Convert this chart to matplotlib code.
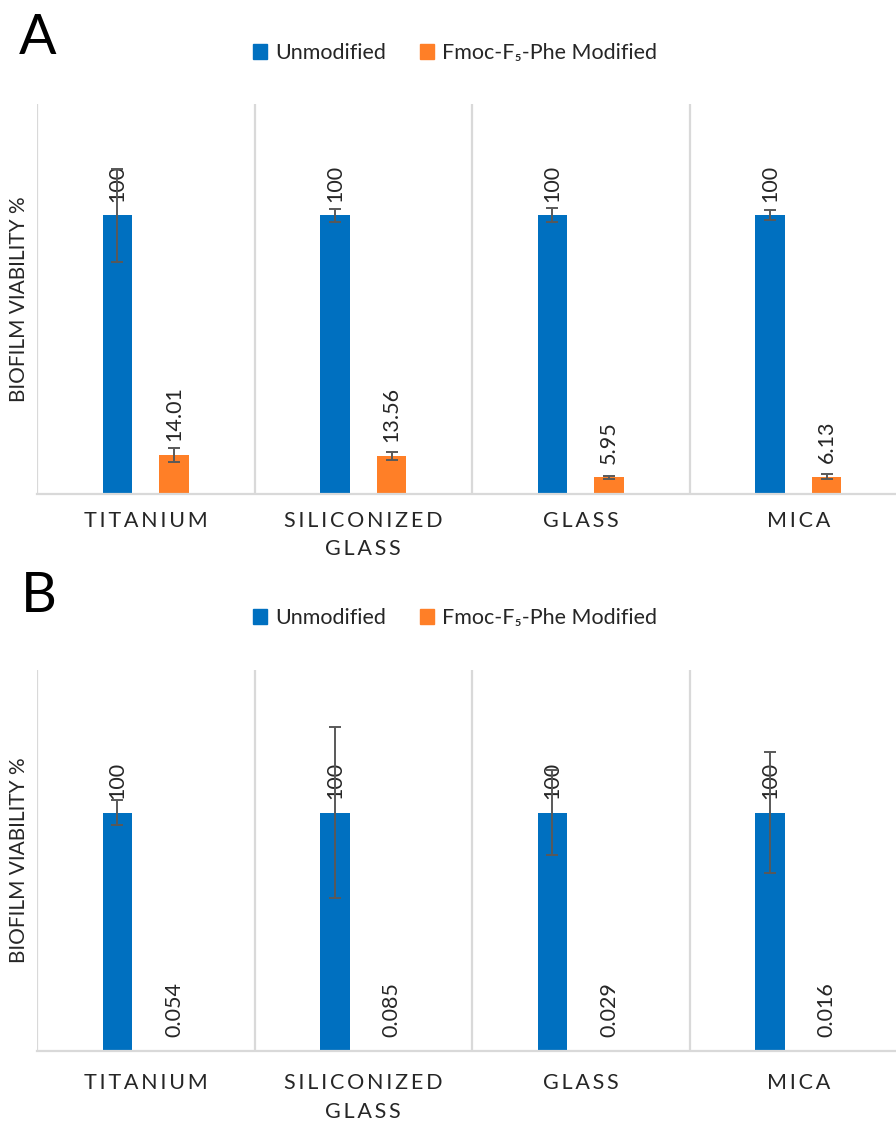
import matplotlib
matplotlib.use("Agg")
import matplotlib.pyplot as plt
from matplotlib.patches import Patch
import numpy as np

plt.rcParams['font.family'] = ['Lato', 'DejaVu Sans']

# 数据
categories = ["TITANIUM", "SILICONIZED\nGLASS", "GLASS", "MICA"]
series_names = ["Unmodified", "Fmoc-F\u2085-Phe Modified"]

a_unmod = [100, 100, 100, 100]
a_unmod_err = [16.7, 2.3, 2.5, 1.8]
a_mod = [14.01, 13.56, 5.95, 6.13]
a_mod_err = [2.4, 1.4, 0.6, 0.9]

b_unmod = [100, 100, 100, 100]
b_unmod_err = [5.3, 36.0, 17.7, 25.5]
b_mod = [0.054, 0.085, 0.029, 0.016]

blue = "#0070C0"
orange = "#FF7F27"
grid_c = "#D9D9D9"
err_c = "#595959"
txt_c = "#262626"

W, H = 896, 1121
fig = plt.figure(figsize=(W / 100, H / 100), dpi=100)


def spaced(s):
    # 模拟 Excel 的字间距
    return "\n".join("\u2009".join(line) for line in s.split("\n"))


def draw_panel(ax, unmod, unmod_err, mod, mod_err, ymax, pad):
    x = np.arange(len(categories))
    ekw = dict(ecolor=err_c, elinewidth=1.4, capsize=4, capthick=1.4, zorder=4)
    ax.bar(x - 0.13, unmod, 0.135, color=blue, yerr=unmod_err, error_kw=ekw, zorder=2)
    if mod_err is not None:
        ax.bar(x + 0.13, mod, 0.135, color=orange, yerr=mod_err, error_kw=ekw, zorder=2)
    else:
        ax.bar(x + 0.13, mod, 0.135, color=orange, zorder=2)

    for xi, v in zip(x - 0.13, unmod):
        ax.annotate(f"{v:g}", (xi, v), xytext=(0, 10), textcoords="offset points",
                    rotation=90, ha="center", va="bottom", fontsize=15.5, color=txt_c, zorder=1)
    for xi, v in zip(x + 0.13, mod):
        ax.annotate(f"{v:g}", (xi, v), xytext=(0, 10), textcoords="offset points",
                    rotation=90, ha="center", va="bottom", fontsize=15.5, color=txt_c, zorder=1)

    for b in np.arange(-0.5, len(categories) + 0.5, 1.0):
        ax.axvline(b, color=grid_c, lw=1.6, zorder=0)

    ax.set_xlim(-0.5, len(categories) - 0.5)
    ax.set_ylim(0, ymax)
    ax.set_yticks([])
    ax.set_xticks(x)
    ax.set_xticklabels([spaced(c) for c in categories], fontsize=15.5, color=txt_c, linespacing=1.55)
    ax.tick_params(axis="x", length=0, pad=pad)
    for s in ["top", "right", "left"]:
        ax.spines[s].set_visible(False)
    ax.spines["bottom"].set_color(grid_c)
    ax.spines["bottom"].set_linewidth(1.6)
    ax.set_ylabel("BIOFILM VIABILITY %", fontsize=15, color=txt_c)
    ax.yaxis.set_label_coords(-8 / 870, 0.5)


axA = fig.add_axes([37 / W, 1 - 494 / H, 870 / W, 390 / H])
draw_panel(axA, a_unmod, a_unmod_err, a_mod, a_mod_err, 140, 12)

axB = fig.add_axes([37 / W, 1 - 1051 / H, 870 / W, 381.5 / H])
draw_panel(axB, b_unmod, b_unmod_err, b_mod, None, 160, 16)

# 面板标签
fig.text(38 / W, 1 - 38 / H, "A", fontsize=40, ha="center", va="center", color="black")
fig.text(39 / W, 1 - 596 / H, "B", fontsize=40, ha="center", va="center", color="black")

# 图例
handles = [Patch(color=blue), Patch(color=orange)]
for ly in [53, 618]:
    fig.legend(handles, series_names, loc="center", bbox_to_anchor=(455 / W, 1 - ly / H),
               ncol=2, frameon=False, fontsize=15.5, handlelength=0.65, handleheight=0.65,
               handletextpad=0.35, columnspacing=1.6, labelcolor=txt_c)

fig.savefig("out.png", dpi=100, facecolor="white")
